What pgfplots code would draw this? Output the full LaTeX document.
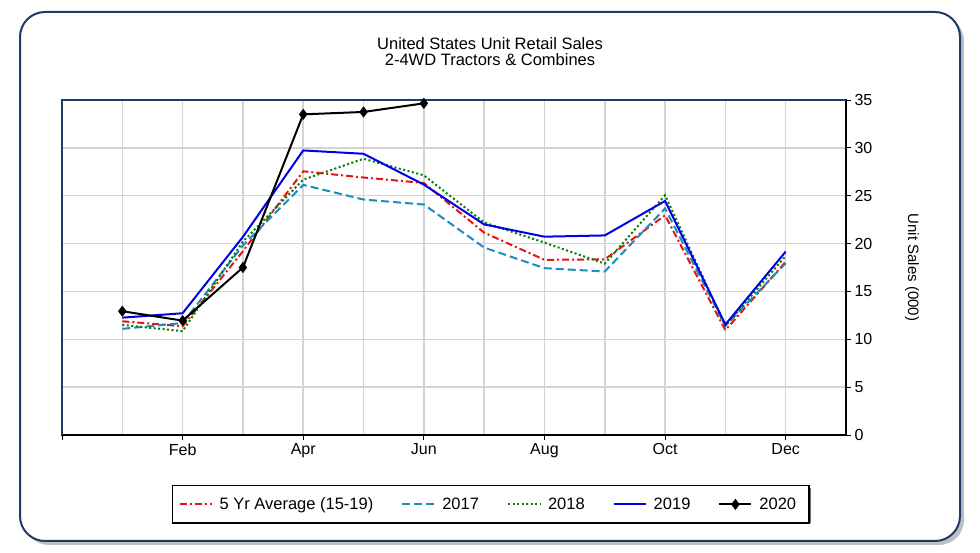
\documentclass[border=0pt]{standalone}
\usepackage{fontspec}
\setmainfont{Liberation Sans}
\usepackage{pgfplots}
\pgfplotsset{compat=1.18}
\definecolor{framenavy}{RGB}{30,60,100}
\definecolor{cred}{RGB}{232,20,20}
\definecolor{cteal}{RGB}{30,140,190}
\definecolor{cgreen}{RGB}{0,128,0}
\definecolor{cblue}{RGB}{0,0,230}
\definecolor{gridgray}{RGB}{212,212,212}
\begin{document}
\begin{tikzpicture}[x=1pt,y=1pt]
\path[use as bounding box] (0,0) rectangle (980,553);
\fill[black!25, rounded corners=25pt] (24,8) rectangle (964,537);
\draw[framenavy, line width=2pt, fill=white, rounded corners=25pt] (20,12) rectangle (960,541);
\fill[black!55] (175,30) rectangle (811,65);
\node[align=center, font=\fontsize{16.5}{16}\selectfont] at (490,501) {United States Unit Retail Sales\\2-4WD Tractors \& Combines};
\begin{axis}[
  at={(62pt,118pt)}, anchor=south west,
  width=784pt, height=335pt, scale only axis,
  xmin=0, xmax=13, ymin=0, ymax=35,
  clip=false,
  xtick={0,2,4,6,8,10,12},
  xticklabels={,Feb,Apr,Jun,Aug,Oct,Dec},
  minor xtick={1,3,5,7,9,11},
  ytick={0,5,10,15,20,25,30,35},
  xtick pos=bottom, ytick pos=right, yticklabel pos=right,
  tick align=outside,
  major tick length=5pt, minor tick length=0pt,
  tick style={black, line width=0.8pt},
  grid=both,
  grid style={gridgray, line width=1.5pt},
  minor grid style={gridgray, line width=1.5pt},
  axis line style={black, line width=2pt},
  /pgf/number format/assume math mode=true,
  ticklabel style={font=\fontsize{16}{18}\selectfont},
  ylabel={Unit Sales (000)},
  every axis y label/.style={at={(axis description cs:1,0.5)}, xshift=66pt, rotate=-90, anchor=center, font=\fontsize{15}{18}\selectfont},
  legend columns=5,
  legend style={at={(0.547,-0.149)}, anchor=north, draw=black, line width=1.5pt, fill=white,
    font=\fontsize{16.5}{18}\selectfont, inner xsep=6pt, inner ysep=10pt,
    /tikz/every even column/.append style={column sep=21pt},
    nodes={inner xsep=7pt}},
  legend image code/.code={\draw[mark repeat=2,mark phase=2,#1] plot coordinates {(0pt,0pt) (16pt,0pt) (32pt,0pt)};},
]
\addplot[cred, line width=2pt, dash pattern=on 7pt off 3pt on 2pt off 3pt] coordinates {
(1,11.88) (2,11.36) (3,19.2) (4,27.55) (5,26.9) (6,26.33) (7,21.14) (8,18.3) (9,18.35) (10,22.95) (11,10.95) (12,18.1)};
\addlegendentry{5 Yr Average (15-19)}
\addplot[cteal, line width=2pt, dash pattern=on 8pt off 4pt] coordinates {
(1,11.09) (2,11.7) (3,19.8) (4,26.13) (5,24.6) (6,24.08) (7,19.58) (8,17.43) (9,17.08) (10,23.67) (11,11.4) (12,17.95)};
\addlegendentry{2017}
\addplot[cgreen, line width=2pt, dash pattern=on 2pt off 2.5pt] coordinates {
(1,11.5) (2,10.85) (3,20.2) (4,26.68) (5,28.86) (6,27.13) (7,22.2) (8,20.1) (9,17.9) (10,25.05) (11,11.4) (12,18.7)};
\addlegendentry{2018}
\addplot[cblue, line width=2pt] coordinates {
(1,12.26) (2,12.72) (3,20.7) (4,29.73) (5,29.38) (6,26.16) (7,22.0) (8,20.72) (9,20.85) (10,24.45) (11,11.54) (12,19.16)};
\addlegendentry{2019}
\addplot[black, line width=2pt, mark=diamond*, mark size=4pt, mark options={solid}] coordinates {
(1,12.93) (2,11.95) (3,17.5) (4,33.5) (5,33.75) (6,34.65)};
\addlegendentry{2020}
\draw[framenavy, line width=2pt] (rel axis cs:0,0) -- (rel axis cs:0,1) -- (rel axis cs:1,1);
\end{axis}
\end{tikzpicture}
\end{document}
